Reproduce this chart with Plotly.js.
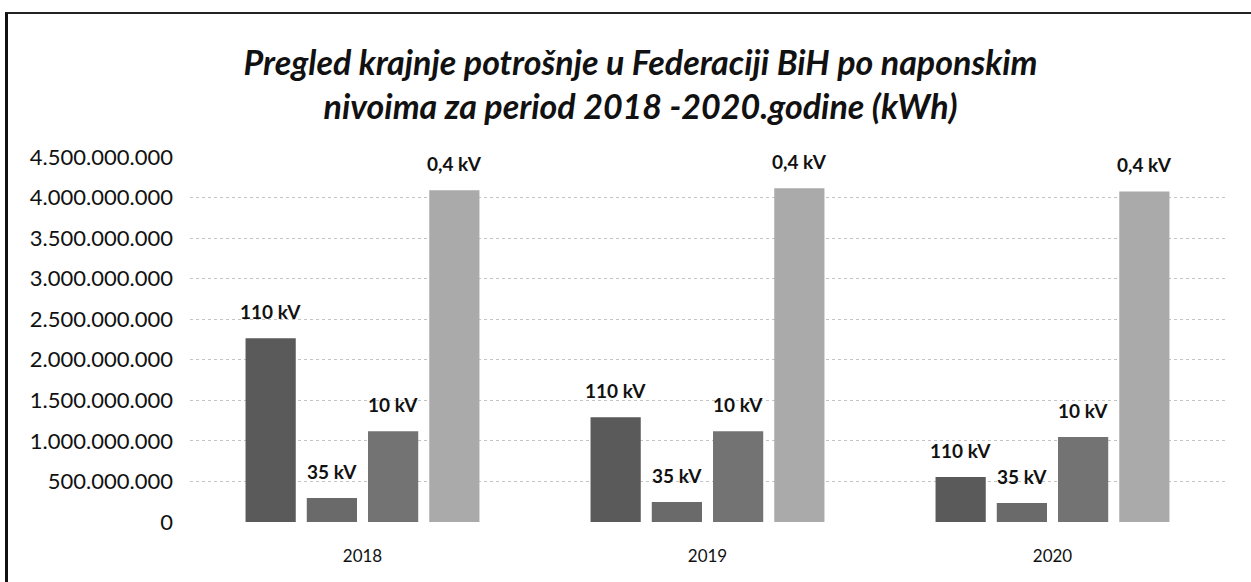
<!DOCTYPE html>
<html><head><meta charset="utf-8">
<script src="https://cdn.plot.ly/plotly-3.0.1.min.js"></script>
<style>
html,body{margin:0;padding:0;background:#fff;}
#wrap{position:relative;width:1251px;height:582px;overflow:hidden;}
#chart{width:1251px;height:582px;}
#frame{position:absolute;left:5px;top:12px;width:1260px;height:600px;border-left:3px solid #111;border-top:2px solid #222;pointer-events:none;}
</style></head>
<body><div id="wrap"><div id="chart"></div><div id="frame"></div></div>
<script>
const years = ['2018', '2019', '2020'];
const seriesNames = ['110 kV', '35 kV', '10 kV', '0,4 kV'];
const v110 = [2265000000, 1290000000, 555000000];
const v35 = [296000000, 246000000, 234000000];
const v10 = [1120000000, 1120000000, 1047000000];
const v04 = [4090000000, 4115000000, 4076000000];
const yTicks = [0, 500000000, 1000000000, 1500000000, 2000000000, 2500000000, 3000000000, 3500000000, 4000000000, 4500000000];
const titleText = '<b><i>Pregled krajnje potrošnje u Federaciji BiH po naponskim<br>nivoima za period 2018 -2020.godine (kWh)</i></b>';

const W = 1251, H = 582;
const margin = {l: 190, r: 26, t: 157, b: 60};
const bargap = 0.29, bargroupgap = 0.18;
const colors = ['#5a5a5a', '#6a6a6a', '#737373', '#aaaaaa'];
const vals = [v110, v35, v10, v04];
const traces = seriesNames.map((n, i) => ({
  type: 'bar', name: n, x: years, y: vals[i],
  marker: {color: colors[i]},
  hoverinfo: 'y'
}));

// data labels as annotations, positioned by the axes from the data
const catW = (W - margin.l - margin.r) / years.length;
const slot = catW * (1 - bargap) / seriesNames.length;
const annotations = [];
seriesNames.forEach((n, i) => {
  years.forEach((yr, j) => {
    annotations.push({
      x: yr, y: vals[i][j], xref: 'x', yref: 'y',
      text: '<b>' + n + '</b>', showarrow: false,
      xanchor: 'center', yanchor: 'bottom',
      xshift: (i - (seriesNames.length - 1) / 2) * slot, yshift: 13,
      font: {family: 'Lato, sans-serif', size: 19, color: '#111'}
    });
  });
});

const layout = {
  width: W, height: H, margin: margin,
  paper_bgcolor: '#fff', plot_bgcolor: '#fff',
  showlegend: false,
  separators: ',.',
  barmode: 'group', bargap: bargap, bargroupgap: bargroupgap,
  title: {text: titleText, x: 0.512, xanchor: 'center', y: 0.871, yanchor: 'middle',
    font: {family: 'Lato, sans-serif', size: 34, color: '#111'}},
  annotations: annotations,
  xaxis: {showgrid: false, zeroline: false, showline: false, ticks: '',
    tickfont: {family: 'Lato, sans-serif', size: 17, color: '#111'}, ticklabelstandoff: 22},
  yaxis: {range: [0, 4500000000], tickvals: yTicks, tickformat: ',d',
    showgrid: true, gridcolor: '#c4c4c4', griddash: 'dot', gridwidth: 1,
    zeroline: false, showline: false, ticks: '',
    tickfont: {family: 'Lato, sans-serif', size: 22, color: '#111'}, ticklabelstandoff: 16}
};
Plotly.newPlot('chart', traces, layout, {displayModeBar: false, staticPlot: true});
</script></body></html>
